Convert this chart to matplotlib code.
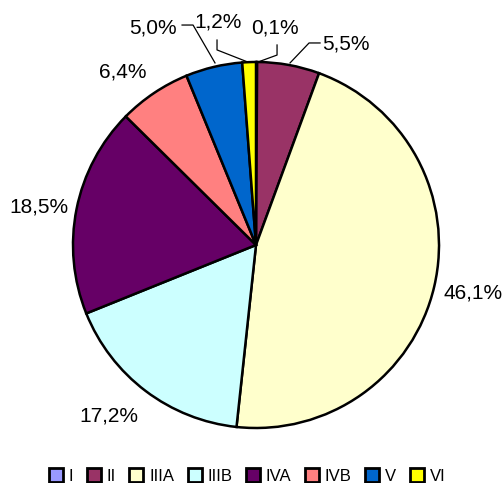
import numpy as np
import matplotlib.pyplot as plt
from matplotlib.patches import Patch

plt.rcParams['font.family'] = ['Liberation Sans', 'DejaVu Sans']

stages = ['I', 'II', 'IIIA', 'IIIB', 'IVA', 'IVB', 'V', 'VI']
shares = [0.1, 5.5, 46.1, 17.2, 18.5, 6.4, 5.0, 1.2]
colors = ['#9999FF', '#993366', '#FFFFCC', '#CCFFFF', '#660066', '#FF8080', '#0066CC', '#FFFF00']

W, H = 504, 483
fig = plt.figure(figsize=(W / 100, H / 100), dpi=100)
cx, cy, r = 256, 245, 183
ax = fig.add_axes([(cx - r) / W, (H - cy - r) / H, 2 * r / W, 2 * r / H])

wedges, _ = ax.pie(shares, colors=colors, startangle=90, counterclock=False,
                   radius=1.0, wedgeprops=dict(edgecolor='black', linewidth=1.8))
ax.set_xlim(-1, 1)
ax.set_ylim(-1, 1)
ax.set_aspect('equal')
ax.axis('off')

# label placement in pie units: (x, baseline y, alignment, leader line or None)
lab = {
    'I':    (0.104, 1.158, 'center', [(0.115, 1.093), (0.115, 1.038), (0.011, 1.0)]),
    'II':   (0.361, 1.066, 'left', [(0.350, 1.104), (0.290, 1.104), (0.186, 0.995)]),
    'IIIA': (1.022, -0.290, 'left', None),
    'IIIB': (-0.645, -0.962, 'right', None),
    'IVA':  (-1.027, 0.180, 'right', None),
    'IVB':  (-0.596, 0.918, 'right', None),
    'V':    (-0.432, 1.158, 'right', [(-0.404, 1.202), (-0.344, 1.202), (-0.224, 0.995)]),
    'VI':   (-0.210, 1.186, 'center', [(-0.213, 1.120), (-0.213, 1.066), (-0.045, 1.0)]),
}

for s, v in zip(stages, shares):
    tx, ty, ha, lead = lab[s]
    ax.text(tx, ty, f'{v:.1f}%'.replace('.', ','), ha=ha, va='baseline', fontsize=15)
    if lead:
        xs, ys = zip(*lead)
        ax.plot(xs, ys, color='black', lw=0.9, clip_on=False)

handles = [Patch(facecolor=c, edgecolor='black', linewidth=2) for c in colors]
fig.legend(handles, stages, loc='center', bbox_to_anchor=(0.49, (H - 476) / H), ncol=8,
           frameon=False, fontsize=12, handlelength=0.85, handleheight=0.85,
           handletextpad=0.35, columnspacing=0.8, borderpad=0)

fig.savefig('out.png', dpi=100)
